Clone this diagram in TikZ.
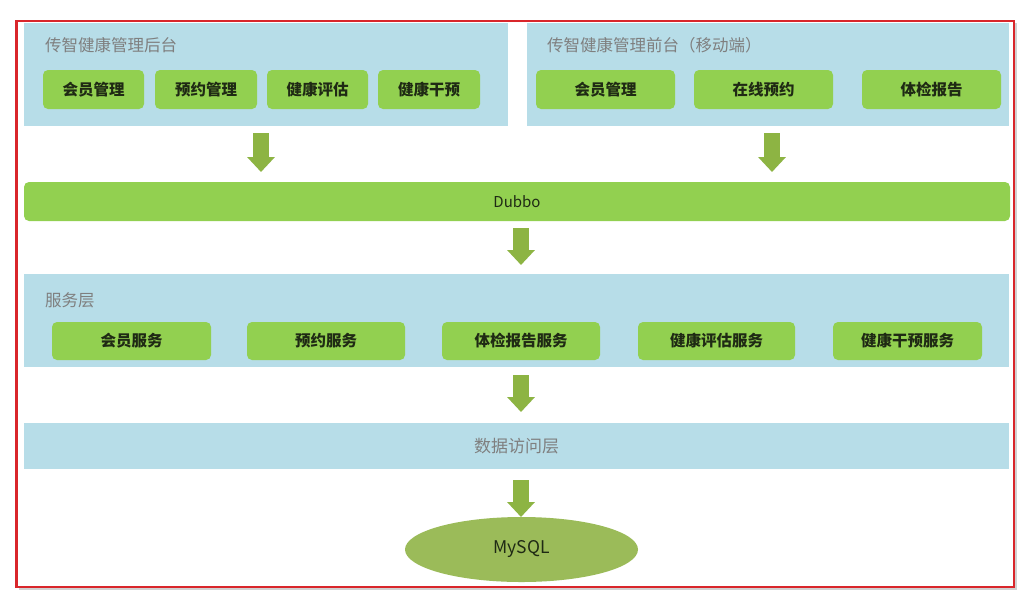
\documentclass[tikz,border=0pt]{standalone}
\usepackage{fontspec}
\setmainfont{Noto Sans CJK SC}
\newfontfamily\cjk{Noto Sans CJK SC}
\usetikzlibrary{arrows.meta,shapes.geometric}
\definecolor{panelblue}{HTML}{B7DDE8}
\definecolor{btngreen}{HTML}{92D050}
\definecolor{arrowgreen}{HTML}{8DB443}
\definecolor{dbgreen}{HTML}{9BBB59}
\definecolor{framered}{HTML}{D9262B}
\definecolor{titlegray}{HTML}{7F7F7F}
\definecolor{btntext}{HTML}{1F2A14}
\begin{document}
\begin{tikzpicture}[x=1pt,y=-1pt,
  panel/.style={fill=panelblue, draw=none, inner sep=0pt, rectangle},
  btn/.style={fill=btngreen, draw=none, rounded corners=5pt, inner sep=0pt, rectangle,
    minimum height=39pt, font=\cjk\fontsize{15.5}{17}\selectfont\bfseries, text=btntext},
  svc/.style={btn, minimum height=38pt},
  ptitle/.style={anchor=west, inner sep=0pt, font=\cjk\fontsize{16.5}{18}\selectfont, text=titlegray},
  flow/.style={draw=arrowgreen, line width=16pt, -{Triangle[width=27pt,length=15pt]}},
]
\useasboundingbox (0,0) rectangle (1035,600);
% frame with shadow
\fill[black!18] (18.5,23) rectangle (1016.5,589.5);
\fill[white] (16.5,21) rectangle (1014,587);
\draw[framered, line width=2.5pt] (16.5,21) rectangle (1014,587);

% top panels
\node[panel, minimum width=484pt, minimum height=103pt] (back) at (266,74.5) {};
\node[panel, minimum width=482pt, minimum height=103pt] (front) at (768,74.5) {};
\node[ptitle] (backt) at (45,45) {传智健康管理后台};
\node[ptitle] (frontt) at (547,45) {传智健康管理前台（移动端）};

\node[btn, minimum width=101pt] (b1) at (93.5,89.5) {会员管理};
\node[btn, minimum width=102pt] (b2) at (206,89.5) {预约管理};
\node[btn, minimum width=101pt] (b3) at (317.5,89.5) {健康评估};
\node[btn, minimum width=102pt] (b4) at (429,89.5) {健康干预};

\node[btn, minimum width=139pt] (f1) at (605.5,89.5) {会员管理};
\node[btn, minimum width=139pt] (f2) at (763.5,89.5) {在线预约};
\node[btn, minimum width=139pt] (f3) at (931.5,89.5) {体检报告};

% Dubbo
\node[btn, minimum width=986pt, minimum height=39pt, font=\cjk\fontsize{15}{17}\selectfont, text=btntext] (dubbo) at (517,201.5) {Dubbo};

% service layer
\node[panel, minimum width=985pt, minimum height=93pt] (svcl) at (516.5,320.5) {};
\node[ptitle] (svct) at (45,300) {服务层};
\node[svc, minimum width=159pt] (s1) at (131.5,341) {会员服务};
\node[svc, minimum width=158pt] (s2) at (326,341) {预约服务};
\node[svc, minimum width=158pt] (s3) at (521,341) {体检报告服务};
\node[svc, minimum width=157pt] (s4) at (716.5,341) {健康评估服务};
\node[svc, minimum width=149pt] (s5) at (907.5,341) {健康干预服务};

% data access layer
\node[panel, minimum width=985pt, minimum height=46pt, font=\cjk\fontsize{17}{19}\selectfont, text=titlegray] (dal) at (516.5,446) {数据访问层};

% MySQL
\node[ellipse, fill=dbgreen, draw=none, minimum width=233pt, minimum height=65pt, inner sep=0pt,
  font=\cjk\fontsize{17.5}{19}\selectfont, text=btntext] (db) at (521.5,549.5) {MySQL};

% arrows
\coordinate (a1s) at (261,133); \coordinate (a1e) at (261,172);
\coordinate (a2s) at (772,133); \coordinate (a2e) at (772,172);
\coordinate (a3s) at (521,228); \coordinate (a3e) at (521,265);
\coordinate (a4s) at (521,375); \coordinate (a4e) at (521,412);
\coordinate (a5s) at (521,480); \coordinate (a5e) at (521,517);
\draw[flow] (a1s) -- (a1e);
\draw[flow] (a2s) -- (a2e);
\draw[flow] (a3s) -- (a3e);
\draw[flow] (a4s) -- (a4e);
\draw[flow] (a5s) -- (a5e);
\end{tikzpicture}
\end{document}
